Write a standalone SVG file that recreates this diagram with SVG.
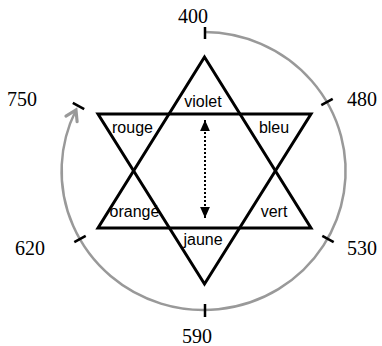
<svg xmlns="http://www.w3.org/2000/svg" width="382" height="346" viewBox="0 0 382 346">
<style>
.num{font-family:"Liberation Serif","DejaVu Serif",serif;font-size:20px;fill:#000}
.lab{font-family:"Liberation Sans",Arial,sans-serif;font-size:16px;fill:#000;text-anchor:middle}
.tick{stroke:#000;stroke-width:2.5;stroke-linecap:butt}
.star{fill:none;stroke:#000;stroke-width:3;stroke-linejoin:miter}
</style>
<defs>
<marker id="openArrow" markerUnits="userSpaceOnUse" markerWidth="20" markerHeight="20" refX="0" refY="0" viewBox="-12 -8 14 16" orient="auto" overflow="visible">
<path d="M -8 -5 L 0 0 L -8 5" fill="none" stroke="#999" stroke-width="2.5" stroke-linecap="round" stroke-linejoin="miter"/>
</marker>
<marker id="solidHead" markerUnits="userSpaceOnUse" markerWidth="12" markerHeight="12" refX="0" refY="0" viewBox="-10 -5 11 10" orient="auto-start-reverse" overflow="visible">
<path d="M -10 -4.5 L 0 0 L -10 4.5 Z" fill="#000"/>
</marker>
</defs>
<g id="connectors">
<path id="cycle" d="M 204.5 32 A 142 139 0 1 1 76 110" fill="none" stroke="#999" stroke-width="2.5" marker-end="url(#openArrow)"/>
<line id="range" x1="205" y1="120" x2="205" y2="218" stroke="#000" stroke-width="2" stroke-dasharray="2 2" marker-start="url(#solidHead)" marker-end="url(#solidHead)"/>
</g>
<g id="star">
<polygon class="star" points="204.5,57 98,228 311,228"/>
<polygon class="star" points="98,114 311,114 204.5,284"/>
</g>
<g id="tick-400"><line class="tick" x1="205" y1="27" x2="205" y2="39"/><text class="num" x="178" y="23">400</text></g>
<g id="tick-480"><line class="tick" x1="321.3" y1="105.2" x2="332.7" y2="98.8"/><text class="num" x="347" y="106">480</text></g>
<g id="tick-530"><line class="tick" x1="322.3" y1="235.8" x2="333.7" y2="242.2"/><text class="num" x="347" y="255">530</text></g>
<g id="tick-590"><line class="tick" x1="205" y1="304" x2="205" y2="317"/><text class="num" x="182" y="343">590</text></g>
<g id="tick-620"><line class="tick" x1="74.3" y1="242.2" x2="85.7" y2="235.8"/><text class="num" x="15" y="255">620</text></g>
<g id="tick-750"><line class="tick" x1="72.8" y1="102.8" x2="84.2" y2="109.2"/><text class="num" x="7" y="106">750</text></g>
<g id="violet"><text class="lab" x="203" y="107">violet</text></g>
<g id="bleu"><text class="lab" x="274" y="133">bleu</text></g>
<g id="vert"><text class="lab" x="274" y="217">vert</text></g>
<g id="jaune"><text class="lab" x="203" y="245">jaune</text></g>
<g id="orange"><text class="lab" x="134.5" y="217">orangé</text></g>
<g id="rouge"><text class="lab" x="132.5" y="133">rouge</text></g>
</svg>
